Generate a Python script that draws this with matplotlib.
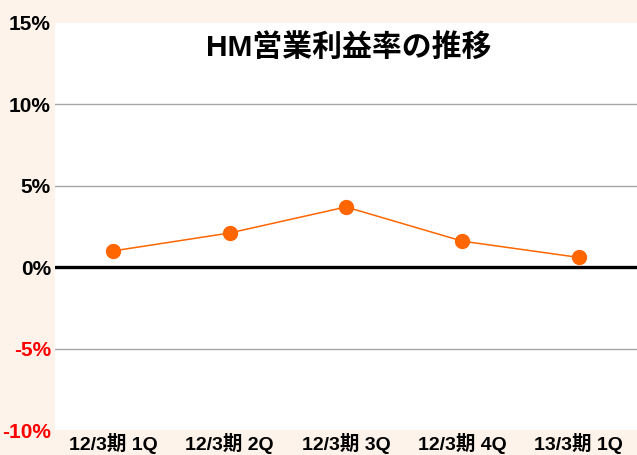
import matplotlib
matplotlib.use("Agg")
import matplotlib.pyplot as plt

categories = ["12/3期 1Q", "12/3期 2Q", "12/3期 3Q", "12/3期 4Q", "13/3期 1Q"]
margin = [1.0, 2.1, 3.7, 1.6, 0.6]
yticks = [-10, -5, 0, 5, 10, 15]
ytick_labels = ["-10%", "-5%", "0%", "5%", "10%", "15%"]
title = "HM営業利益率の推移"

fam = ["Liberation Sans", "Noto Sans CJK JP", "DejaVu Sans"]
plt.rcParams["font.family"] = fam

fig = plt.figure(figsize=(6.37, 4.55), dpi=100, facecolor="#FDF3EA")
ax = fig.add_axes([55/637, 1 - 430/455, 582/637, (430 - 23)/455])
ax.set_facecolor("white")

x = list(range(len(categories)))
ax.plot(x, margin, color="#FF6600", lw=1.1, marker="o", ms=10, mec="#FF6600", mfc="#FF6600", zorder=5)

ax.set_xlim(-0.5, len(categories) - 0.5)
ax.set_ylim(-10, 15)
ax.set_yticks(yticks)
ax.set_yticklabels(ytick_labels, fontsize=15, fontweight="bold")
for lbl, v in zip(ax.get_yticklabels(), yticks):
    lbl.set_color("red" if v < 0 else "black")
ax.set_xticks(x)
ax.set_xticklabels(categories, fontsize=14, fontweight="bold")
ax.tick_params(axis="both", length=0)
ax.tick_params(axis="y", pad=3)
ax.tick_params(axis="x", pad=2.5)

for v in [5, 10, -5]:
    ax.axhline(v, color="#A6A6A6", lw=1.0, zorder=1)
ax.axhline(0, color="black", lw=2.4, zorder=2)

for s in ax.spines.values():
    s.set_visible(False)

ax.text(0.505, 0.941, title, transform=ax.transAxes, ha="center", va="center",
        fontsize=21.5, fontweight="bold", family=fam)

fig.savefig("out.png", dpi=100, facecolor=fig.get_facecolor())
